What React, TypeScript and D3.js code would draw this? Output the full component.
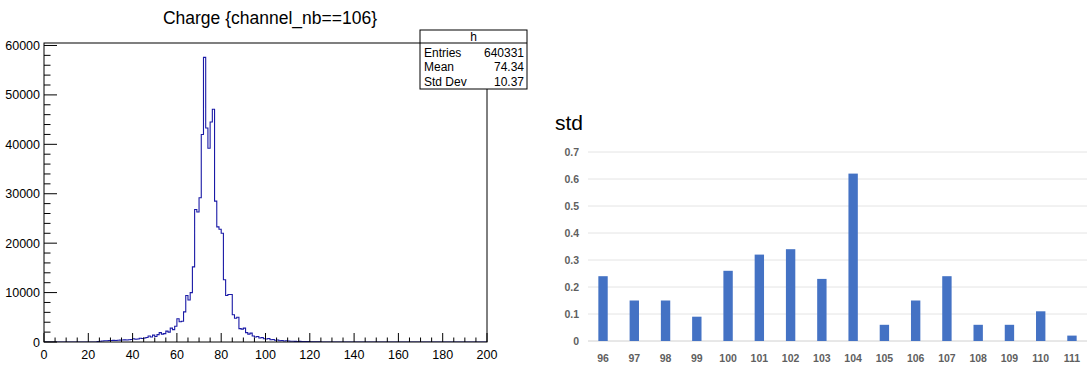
import React from 'react';
import * as d3 from 'd3';

// ROOT histogram: Charge {channel_nb==106}, 200 bins of width 1 over [0, 200]
const histFirstBin = 24;
const histCounts = [
  100, 150, 200, 250, 250, 300, 300, 320, 300, 350, 380, 400, 420, 400, 450, 500,
  650, 550, 600, 750, 700, 800, 900, 1200, 1000, 1400, 1100, 1500, 1900, 1600, 1700, 2200,
  2000, 2800, 2500, 3200, 4700, 4100, 4200, 6100, 9400, 8500, 10000, 15200, 26800, 26300, 29200, 42000,
  57600, 43300, 39200, 44500, 47100, 28500, 23300, 22800, 22000, 12600, 9400, 9600, 9600, 5500,
  4800, 5000, 2700, 2600, 2800, 1900, 1600, 1800, 1200, 1000, 1100, 800, 900, 650, 600, 700,
  450, 500, 350, 400, 250, 300, 200, 250, 200, 150, 150, 120, 100, 120, 100, 80,
  90, 70, 60, 60, 50, 40, 40,
];
const statsLabels = ['Entries', 'Mean', 'Std Dev'];
const statsValues = ['640331', '74.34', '10.37'];

// bar chart: std per channel
const channels = ['96', '97', '98', '99', '100', '101', '102', '103', '104', '105', '106', '107', '108', '109', '110', '111'];
const stdValues = [0.24, 0.15, 0.15, 0.09, 0.26, 0.32, 0.34, 0.23, 0.62, 0.06, 0.15, 0.24, 0.06, 0.06, 0.11, 0.02];
const stdTicks = [0, 0.1, 0.2, 0.3, 0.4, 0.5, 0.6, 0.7];

const rootFont = '"Liberation Sans", Arial, sans-serif';

const Histogram = () => {
  const frame = { left: 44, right: 487, top: 43, bottom: 342 };
  const x = d3.scaleLinear().domain([0, 200]).range([frame.left, frame.right]);
  const y = d3.scaleLinear().domain([0, 60500]).range([frame.bottom, frame.top]);

  const bins: [number, number][] = [];
  for (let i = 0; i < 200; i++) {
    const k = i - histFirstBin;
    const v = k >= 0 && k < histCounts.length ? histCounts[k] : 0;
    bins.push([i, v]);
  }
  bins.push([200, bins[199][1]]);
  const line = d3.line<[number, number]>()
    .x((d) => x(d[0]))
    .y((d) => y(d[1]))
    .curve(d3.curveStepAfter);

  const xMajor = d3.range(0, 201, 20);
  const xMinor = d3.range(0, 201, 5).filter((v) => v % 20 !== 0);
  const yMajor = d3.range(0, 60001, 10000);
  const yMinor = d3.range(0, 60001, 2000).filter((v) => v % 10000 !== 0);

  const box = { x: 420, y: 30, w: 107, h: 59, head: 13 };

  return (
    <g fontFamily={rootFont}>
      <text x={270} y={24} textAnchor="middle" fontSize={17.5}>Charge {'{'}channel_nb==106{'}'}</text>
      <clipPath id="frameClip">
        <rect x={frame.left} y={frame.top} width={frame.right - frame.left} height={frame.bottom - frame.top} />
      </clipPath>
      <path d={line(bins) || ''} fill="none" stroke="#1a1aa6" strokeWidth={1.1} clipPath="url(#frameClip)" />
      <rect x={frame.left} y={frame.top} width={frame.right - frame.left} height={frame.bottom - frame.top}
        fill="none" stroke="#000" strokeWidth={1} />
      {xMajor.map((v) => (
        <g key={'xm' + v}>
          <line x1={x(v)} x2={x(v)} y1={frame.bottom} y2={frame.bottom - 9} stroke="#000" />
          <text x={x(v)} y={frame.bottom + 17} textAnchor="middle" fontSize={12.5}>{v}</text>
        </g>
      ))}
      {xMinor.map((v) => (
        <line key={'xn' + v} x1={x(v)} x2={x(v)} y1={frame.bottom} y2={frame.bottom - 4.5} stroke="#000" />
      ))}
      {yMajor.map((v) => (
        <g key={'ym' + v}>
          <line x1={frame.left} x2={frame.left + 13} y1={y(v)} y2={y(v)} stroke="#000" />
          <text x={frame.left - 4} y={v === 0 ? y(v) + 5 : y(v) + 4.5} textAnchor="end" fontSize={12.5}>{v}</text>
        </g>
      ))}
      {yMinor.map((v) => (
        <line key={'yn' + v} x1={frame.left} x2={frame.left + 6.5} y1={y(v)} y2={y(v)} stroke="#000" />
      ))}
      <rect x={box.x} y={box.y} width={box.w} height={box.h} fill="#fff" stroke="#000" />
      <line x1={box.x} x2={box.x + box.w} y1={box.y + box.head} y2={box.y + box.head} stroke="#000" />
      <text x={box.x + box.w / 2} y={box.y + 10.5} textAnchor="middle" fontSize={12}>h</text>
      {statsLabels.map((l, i) => (
        <g key={l}>
          <text x={box.x + 4} y={box.y + 26.5 + i * 14.8} fontSize={12}>{l}</text>
          <text x={box.x + box.w - 3} y={box.y + 26.5 + i * 14.8} fontSize={12} textAnchor="end">{statsValues[i]}</text>
        </g>
      ))}
    </g>
  );
};

const StdChart = () => {
  const x = d3.scaleBand().domain(channels).range([587.4, 1087.6]).paddingInner(0.7).paddingOuter(0.35);
  const y = d3.scaleLinear().domain([0, 0.7]).range([341, 152]);
  const fmt = (v: number) => (v === 0 ? '0' : d3.format('.1f')(v));

  return (
    <g fontFamily={rootFont}>
      <text x={555} y={130} fontSize={21} fill="#000">std</text>
      {stdTicks.map((t) => (
        <g key={t}>
          <line x1={588} x2={1087} y1={y(t)} y2={y(t)} stroke={t === 0 ? '#d0d0d0' : '#e4e4e4'} strokeWidth={1} />
          <text x={579} y={y(t) + 3.5} textAnchor="end" fontSize={10.5} fill="#5f5f5f" fontWeight="bold">{fmt(t)}</text>
        </g>
      ))}
      {channels.map((c, i) => (
        <g key={c}>
          <rect x={x(c)} y={y(stdValues[i])} width={x.bandwidth()} height={y(0) - y(stdValues[i])} fill="#4472C4" />
          <text x={(x(c) || 0) + x.bandwidth() / 2} y={362} textAnchor="middle" fontSize={10.5} fill="#5f5f5f" fontWeight="bold">{c}</text>
        </g>
      ))}
    </g>
  );
};

export default function App() {
  return (
    <svg width={1087} height={367} style={{ position: 'absolute', left: 0, top: 0, background: '#fff' }}>
      <rect width={1087} height={367} fill="#fff" />
      <Histogram />
      <StdChart />
    </svg>
  );
}
